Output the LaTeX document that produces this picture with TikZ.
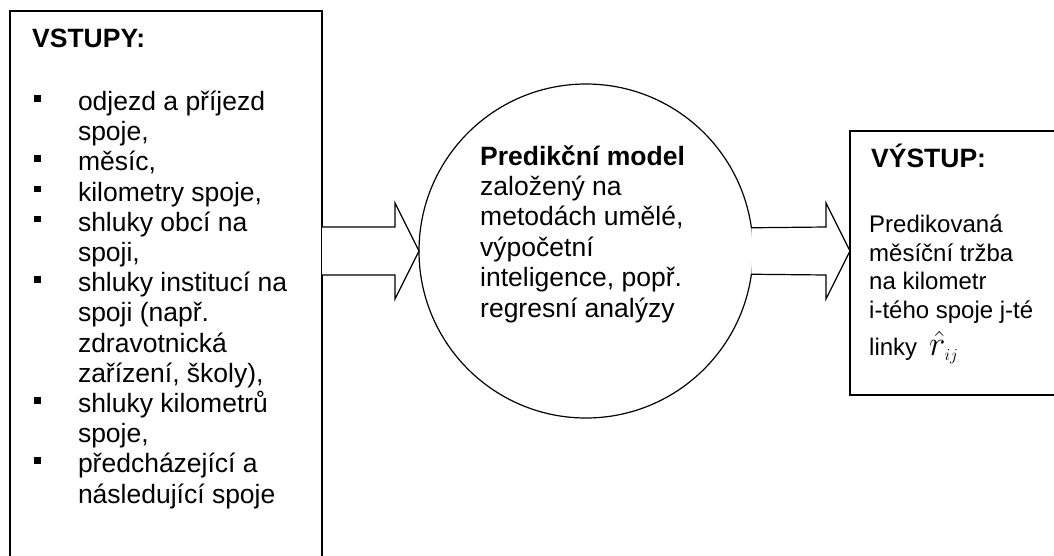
\documentclass[tikz,border=0pt]{standalone}
\usepackage{fontspec}
\usepackage{graphicx}
\setmainfont{Liberation Sans}
\usetikzlibrary{calc}
\newcommand\sqbul{\makebox[44.5pt][l]{\rule[9pt]{7pt}{6.5pt}}}
\tikzset{
  frame/.style={draw, line width=1.2pt, outer sep=0pt, inner sep=0pt},
  blk/.style={draw, fill=white, line width=1.2pt, line join=miter},
  txt/.style={anchor=base west, inner sep=0pt, font=\fontsize{26.5}{30}\selectfont},
  txtb/.style={txt, font=\fontsize{26.5}{30}\selectfont\bfseries},
  txts/.style={anchor=base west, inner sep=0pt, font=\fontsize{24}{28}\selectfont},
}
\begin{document}
\begin{tikzpicture}[x=1pt, y=-1pt]
\useasboundingbox (0,0) rectangle (1054,555);
% boxes and circle
\node[frame, rectangle, anchor=north west, minimum width=312pt, minimum height=570pt] (inbox) at (10,11) {};
\node[frame, circle, minimum size=334pt] (model) at (586,251) {};
\node[frame, rectangle, anchor=north west, minimum width=230pt, minimum height=264pt] (outbox) at (850,131) {};
% block arrows
\draw[blk] (inbox.east |- 0,227) -- ($(model.west)+(-24,-24)$) -- ++(0,-24) -- (model.west)
  -- ++(-24,48) -- ++(0,-24) -- (inbox.east |- 0,275);
\draw[blk] (model.8.25) -- ($(outbox.west |- model.center)+(-24,-24)$) -- ++(0,-24)
  -- (outbox.west |- model.center) -- ++(-24,48) -- ++(0,-24) -- (model.-8.25);
% left texts
\node[txtb] (inhead) at (32,47) {VSTUPY:};
\node[txt] (in1) at (33.3,110.5) {\sqbul odjezd a příjezd};
\node[txt] (in2) at (77.8,140.7) {spoje,};
\node[txt] (in3) at (33.3,170.9) {\sqbul měsíc,};
\node[txt] (in4) at (33.3,201.1) {\sqbul kilometry spoje,};
\node[txt] (in5) at (33.3,231.3) {\sqbul shluky obcí na};
\node[txt] (in6) at (77.8,261.5) {spoji,};
\node[txt] (in7) at (33.3,291.7) {\sqbul shluky institucí na};
\node[txt] (in8) at (77.8,321.9) {spoji (např.};
\node[txt] (in9) at (77.8,352.1) {zdravotnická};
\node[txt] (in10) at (77.8,382.3) {zařízení, školy),};
\node[txt] (in11) at (33.3,412.5) {\sqbul shluky kilometrů};
\node[txt] (in12) at (77.8,442.7) {spoje,};
\node[txt] (in13) at (33.3,472.9) {\sqbul předcházející a};
\node[txt] (in14) at (77.8,503.1) {následující spoje};
% centre texts
\node[txtb] (m1) at (480,165) {Predikční model};
\node[txt] (m2) at (480,195.4) {založený na};
\node[txt] (m3) at (480,225.8) {metodách umělé,};
\node[txt] (m4) at (480,256.2) {výpočetní};
\node[txt] (m5) at (480,286.6) {inteligence, popř.};
\node[txt] (m6) at (480,317) {regresní analýzy};
% right texts
\node[txtb] (outhead) at (871,167) {VÝSTUP:};
\node[txts] (o1) at (869,232.7) {Predikovaná};
\node[txts] (o2) at (869,261.2) {měsíční tržba};
\node[txts] (o3) at (869,289.7) {na kilometr};
\node[txts] (o4) at (869,318.2) {i-tého spoje j-té};
\node[txts] (o5) at (869,355) {linky\hspace{12pt}\scalebox{1.4}{$\hat{r}_{\scriptscriptstyle ij}$}};
\end{tikzpicture}
\end{document}
